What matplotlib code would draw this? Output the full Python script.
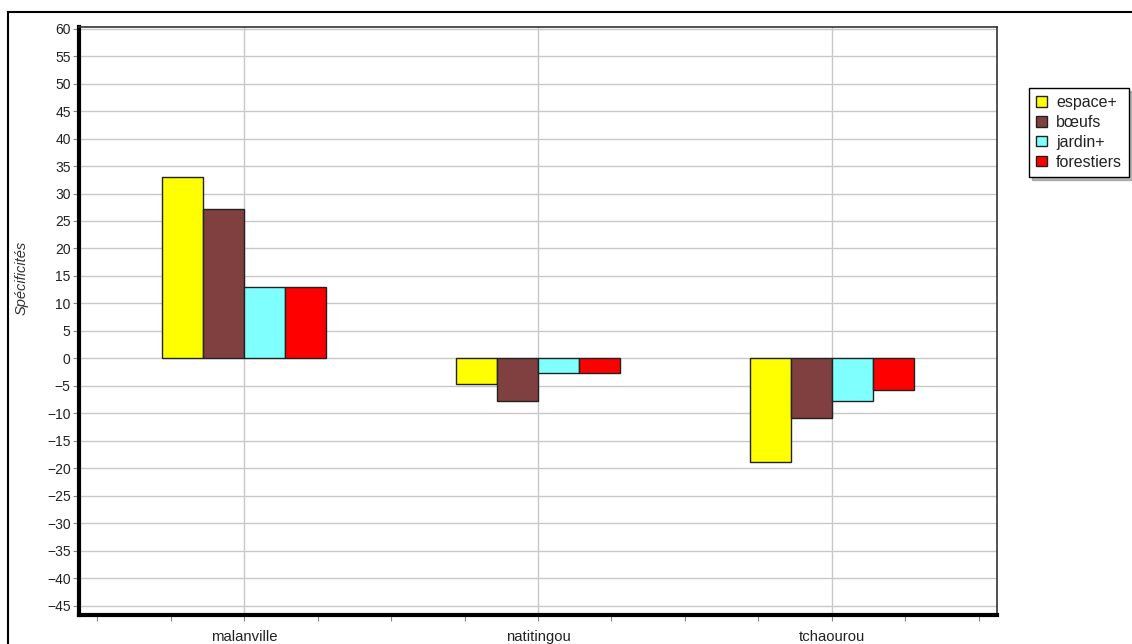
import matplotlib.pyplot as plt
from matplotlib.lines import Line2D
import numpy as np

plt.rcParams['font.family'] = ['Liberation Sans', 'DejaVu Sans']

# données
villes = ['malanville', 'natitingou', 'tchaourou']
series = ['espace+', 'bœufs', 'jardin+', 'forestiers']
espace = [33.0, -4.6, -18.8]
boeufs = [27.2, -7.8, -10.8]
jardin = [13.0, -2.6, -7.8]
forestiers = [13.0, -2.6, -5.8]
couleurs = ['#ffff00', '#804040', '#80ffff', '#ff0000']
y_ticks = list(range(-45, 61, 5))

fig = plt.figure(figsize=(11.32, 6.44), dpi=100)
fig.patch.set_facecolor('white')

W, H = 1132, 644
ax = fig.add_axes([79 / W, 1 - 615 / H, (997 - 79) / W, (615 - 27) / H])

x = np.arange(len(villes))
w = 0.14
valeurs = [espace, boeufs, jardin, forestiers]
for i, (vals, nom, c) in enumerate(zip(valeurs, series, couleurs)):
    ax.bar(x + (i - 1.5) * w, vals, width=w, color=c, edgecolor='#222222',
           linewidth=1.0, label=nom, zorder=3)

ax.set_xlim(-0.5625, 2.5625)
ax.set_ylim(-46.7, 60.3)
ax.set_yticks(y_ticks)
ax.set_xticks(x)
ax.set_xticklabels(villes)
ax.set_xticks(np.arange(-0.5, 2.51, 0.25), minor=True)

ax.grid(axis='y', color='#c8c8c8', linewidth=1.0, zorder=0)
ax.grid(axis='x', which='major', color='#c8c8c8', linewidth=1.0, zorder=0)

ax.tick_params(axis='y', labelsize=10, labelcolor='#222222', color='#888888',
               length=4, width=0.8, pad=2)
ax.tick_params(axis='x', which='both', labelsize=10.7, labelcolor='#222222',
               color='#888888', length=4, width=0.8, pad=7)

ax.spines['left'].set_linewidth(3)
ax.spines['bottom'].set_linewidth(3)
ax.spines['top'].set_linewidth(1.2)
ax.spines['right'].set_linewidth(1.2)
ax.spines['top'].set_color('#333333')
ax.spines['right'].set_color('#333333')

fig.text(22 / W, 1 - 278 / H, 'Spécificités', rotation=90, style='italic',
         fontsize=10.5, color='#333333', ha='center', va='center')

# cadre extérieur
fig.add_artist(Line2D([8 / W, 1], [1 - 12 / H, 1 - 12 / H], color='black',
                      linewidth=1.5, transform=fig.transFigure))
fig.add_artist(Line2D([8 / W, 8 / W], [0, 1 - 12 / H], color='black',
                      linewidth=1.5, transform=fig.transFigure))

leg = fig.legend(loc='upper left', bbox_to_anchor=(1029 / W, 1 - 88 / H),
                 frameon=True, fancybox=False, shadow={'color': '#888888', 'alpha': 0.6},
                 fontsize=11.5, handlelength=0.65, handleheight=0.65,
                 handletextpad=0.6, borderpad=0.45, labelspacing=0.3,
                 borderaxespad=0)
leg.get_frame().set_edgecolor('black')
leg.get_frame().set_linewidth(1.0)
for t in leg.get_texts():
    t.set_color('#222222')

fig.savefig('out.png', dpi=100)
